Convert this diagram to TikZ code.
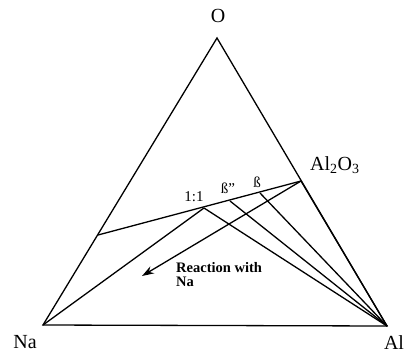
\documentclass[tikz,border=0pt]{standalone}
\usepackage{fontspec}
\setmainfont{Liberation Serif}
\usepackage{tikz}
\usetikzlibrary{arrows.meta}

\begin{document}
\begin{tikzpicture}[x=1pt, y=-1pt,
    edge/.style={line width=1.3pt},
    corner/.style={font=\fontsize{20}{20}\selectfont},
    phase/.style={font=\fontsize{15}{15}\selectfont},
]
\useasboundingbox (0,0) rectangle (407,360);
% Triangle
\coordinate (O) at (217,38);
\coordinate (Na) at (43,325);
\coordinate (Al) at (387,326);
\draw[edge, line join=miter] (O) -- (Na) -- (Al) -- cycle;
\node[corner] (Olab) at (218,16) {O};
\node[corner] (Nalab) at (25,342) {Na};
\node[corner] (Allab) at (394,343) {Al};

% Tie line
\coordinate (left) at (98,235);
\coordinate (alumina) at (301,181);
\coordinate (oneone) at (204,208);
\coordinate (bdd) at (230,201);
\coordinate (bd) at (260,193);
\draw[edge] (left) -- (alumina);
\node[corner, anchor=west, inner sep=0pt] (Al2O3lab) at (310,165) {Al\textsubscript{2}O\textsubscript{3}};
\node[phase] (oneonelab) at (194,197) {1:1};
\node[phase] (bddlab) at (228,188) {ß''};
\node[phase] (bdlab) at (257,182) {ß};

% Lines to the corners
\foreach \p in {oneone,bdd,bd,alumina} {
    \draw[edge] (\p) -- (Al);
}
\draw[edge] (Na) -- (oneone);

% Reaction with Na
\coordinate (tip) at (142,276);
\draw[edge, -{Stealth[length=12pt, width=8pt]}] (alumina) -- (tip);
\node[font=\fontsize{14.5}{14}\selectfont\bfseries, anchor=base west, align=left, inner sep=0pt] (reaction) at (176,286) {Reaction with\\Na};
\end{tikzpicture}
\end{document}
